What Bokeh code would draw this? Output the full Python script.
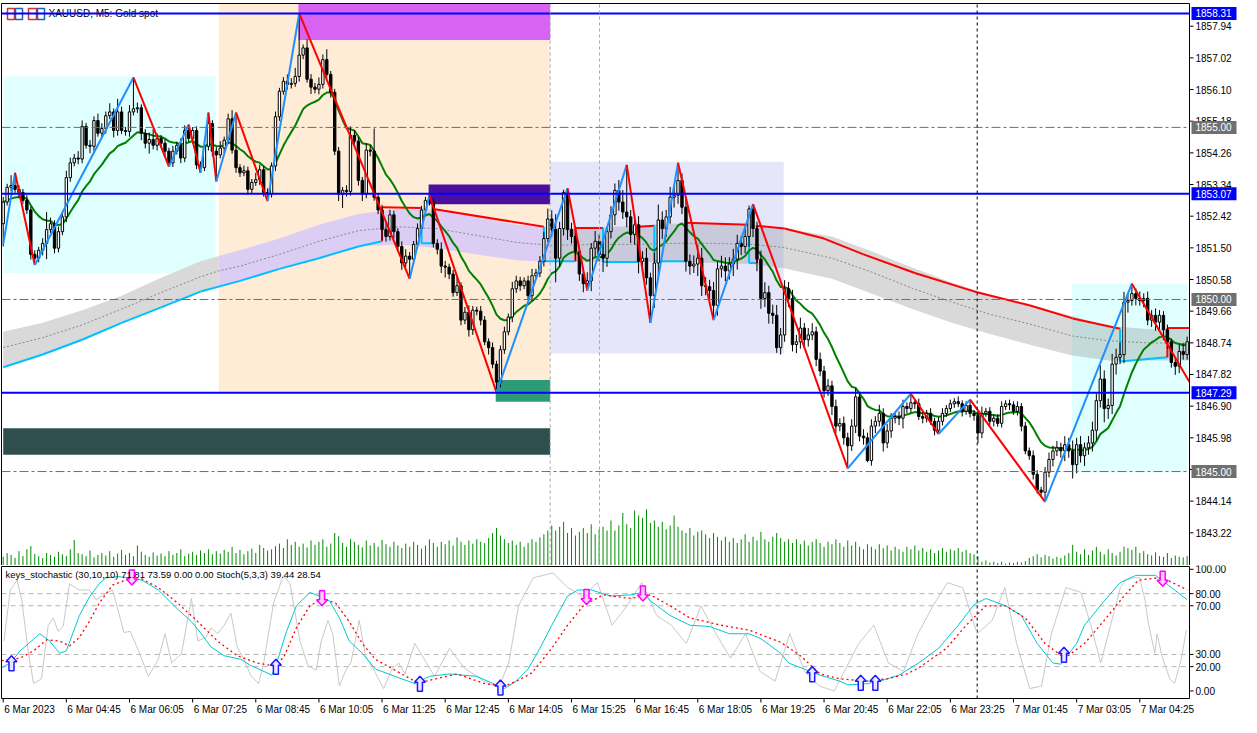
import numpy as np
import pandas as pd
from bokeh.plotting import figure
from bokeh.layouts import column
from bokeh.models import Range1d
from bokeh.core.properties import value
from bokeh.embed import file_html
from bokeh.resources import INLINE

# ---------------- data ----------------
open_first = 1852.20
close = [
1852.83,1853.26,1853.31,1853.20,1853.11,1852.88,1852.60,1851.31,1851.20,1851.43,
1851.63,1852.03,1852.20,1851.49,1851.97,1852.40,1853.54,1853.97,1854.11,1854.08,
1855.03,1854.48,1854.45,1855.20,1854.83,1854.97,1855.34,1855.45,1854.91,1855.45,
1854.91,1854.88,1855.45,1855.54,1855.57,1854.83,1854.54,1854.65,1854.48,1854.68,
1854.54,1854.31,1853.97,1854.31,1854.48,1854.11,1854.91,1854.68,1854.91,1853.91,
1853.83,1854.45,1855.11,1854.31,1854.20,1854.40,1854.63,1855.25,1854.34,1853.83,
1853.68,1853.74,1853.20,1853.40,1853.48,1853.77,1853.11,1853.06,1853.88,1855.31,
1856.05,1856.34,1856.25,1856.28,1856.48,1857.10,1857.31,1856.40,1856.17,1856.11,
1856.25,1856.97,1856.54,1856.02,1854.31,1853.06,1853.17,1853.14,1854.77,1854.60,
1853.46,1853.06,1854.34,1854.31,1852.97,1852.60,1852.03,1851.83,1852.46,1851.97,
1851.54,1851.06,1851.26,1851.17,1851.60,1852.06,1852.60,1852.88,1852.83,1851.63,
1851.46,1850.97,1850.94,1850.74,1850.20,1850.40,1849.40,1849.63,1849.12,1849.69,
1849.66,1849.40,1848.77,1848.60,1848.12,1847.60,1848.54,1849.06,1849.49,1850.31,
1850.54,1850.40,1850.54,1850.11,1850.69,1850.77,1851.11,1851.77,1852.34,1852.03,
1851.20,1852.06,1853.11,1852.03,1851.83,1851.40,1850.74,1850.46,1850.54,1851.49,
1851.69,1851.31,1851.20,1851.97,1852.46,1853.17,1852.83,1852.54,1852.40,1851.89,
1852.17,1851.11,1851.20,1850.63,1850.11,1851.06,1852.31,1852.06,1852.40,1852.97,
1853.03,1853.46,1852.68,1851.11,1850.97,1851.03,1851.20,1850.40,1850.37,1850.26,
1849.83,1850.89,1850.97,1850.83,1851.03,1851.17,1851.63,1851.54,1851.83,1852.63,
1852.06,1851.17,1850.03,1850.20,1849.60,1849.54,1848.60,1848.97,1850.31,1850.03,
1848.69,1848.77,1849.17,1848.83,1848.97,1849.06,1848.26,1847.92,1847.35,1847.49,
1846.89,1846.32,1846.40,1845.98,1845.75,1846.32,1847.17,1846.03,1845.98,1845.32,
1846.32,1846.46,1846.69,1845.83,1846.18,1846.55,1846.60,1846.55,1846.89,1846.83,
1847.00,1846.97,1846.60,1846.55,1846.69,1846.46,1846.20,1846.46,1846.69,1846.83,
1846.97,1847.03,1846.97,1846.75,1846.92,1846.69,1846.63,1846.12,1846.69,1846.75,
1846.46,1846.55,1846.40,1846.89,1846.97,1846.94,1846.75,1846.89,1846.32,1845.60,
1845.46,1844.92,1844.46,1844.40,1844.98,1845.35,1845.60,1845.69,1845.60,1845.78,
1845.60,1845.20,1845.78,1845.46,1845.69,1845.83,1846.20,1847.06,1847.69,1846.83,
1846.92,1848.12,1848.32,1848.40,1849.92,1849.97,1850.17,1850.03,1849.97,1850.03,
1849.40,1849.54,1849.34,1849.54,1849.12,1848.77,1848.17,1848.06,1848.49,1848.40,
1848.77]

wick_up = [
0.15,0.10,0.30,0.37,0.12,0.10,0.15,0.10,0.12,0.10,0.15,0.51,0.18,0.10,0.15,0.12,0.20,0.15,0.12,0.20,
0.17,0.10,0.15,0.12,0.20,0.15,0.12,0.25,0.10,0.38,0.15,0.10,0.20,0.91,0.15,0.10,0.12,0.20,0.30,0.15,
0.10,0.12,0.10,0.15,0.10,0.20,0.15,0.17,0.10,0.12,0.10,0.15,0.32,0.10,0.12,0.20,0.10,0.15,0.25,1.09,
0.10,0.15,0.12,0.10,0.20,0.15,0.10,0.12,0.10,0.15,0.10,0.12,0.20,0.15,0.25,1.21,0.10,0.25,0.15,0.12,
0.20,0.15,0.30,0.10,0.10,0.12,0.10,0.15,0.26,0.15,0.12,0.10,0.20,0.15,0.66,0.12,0.15,0.20,0.15,0.12,
0.10,0.15,0.20,0.12,0.10,0.15,0.12,0.10,0.15,0.10,0.12,0.20,0.15,0.10,0.12,0.25,0.10,0.15,0.20,0.12,
0.10,0.15,0.12,0.10,0.15,0.10,0.12,0.15,0.10,0.20,0.15,0.12,0.10,0.15,0.20,0.12,0.15,0.20,0.30,0.25,
0.45,0.20,0.08,0.12,0.20,0.30,0.15,0.20,0.25,0.15,0.30,0.20,0.40,0.15,0.25,0.20,0.30,0.35,1.37,0.20,
0.30,0.25,0.20,0.30,0.15,0.30,0.45,0.25,0.20,0.30,0.25,0.51,0.20,0.30,0.20,0.25,0.40,0.30,0.25,0.20,
0.25,0.20,0.30,0.25,0.20,0.30,0.25,0.20,0.30,0.10,0.14,0.20,0.25,0.30,0.20,0.25,0.30,0.20,0.25,0.20,
0.25,0.20,0.30,0.15,0.20,0.25,0.15,0.20,0.15,0.20,0.15,0.20,0.15,0.20,0.15,0.20,0.25,0.15,0.20,0.15,
0.20,0.15,0.25,0.15,0.20,0.15,0.12,0.15,0.20,0.12,0.26,0.10,0.15,0.12,0.10,0.15,0.10,0.12,0.15,0.10,
0.12,0.10,0.15,0.10,0.12,0.17,0.10,0.15,0.20,0.10,0.12,0.10,0.12,0.15,0.10,0.12,0.10,0.15,0.10,0.12,
0.10,0.15,0.12,0.10,0.15,0.20,0.15,0.20,0.15,0.25,0.20,0.30,0.20,0.25,0.15,0.20,0.25,0.20,0.40,0.25,
0.20,0.30,0.25,0.35,0.30,0.20,0.29,0.15,0.20,0.15,0.20,0.15,0.20,0.15,0.12,0.15,0.10,0.15,0.20,0.25,
0.15]

wick_dn = [
0.66,0.10,0.12,0.10,0.15,0.10,0.12,0.15,0.20,0.12,0.15,0.46,0.10,0.15,0.12,0.10,0.15,0.12,0.10,0.15,
0.12,0.10,0.20,0.15,0.10,0.12,0.15,0.10,0.20,0.15,0.10,0.12,0.15,0.10,0.12,0.20,0.15,0.30,0.12,0.15,
0.12,0.15,0.11,0.12,0.10,0.15,0.12,0.10,0.15,0.12,0.15,0.10,0.12,0.15,0.77,0.10,0.15,0.12,0.10,0.15,
0.12,0.10,0.15,0.12,0.10,0.15,0.12,0.20,0.10,0.15,0.12,0.10,0.15,0.12,0.10,0.15,0.12,0.10,0.20,0.12,
0.15,0.12,0.10,0.15,0.12,0.20,0.40,0.15,0.12,0.10,0.15,0.20,0.12,0.15,0.10,0.12,0.30,0.15,0.12,0.20,
0.15,0.20,0.12,0.57,0.15,0.10,0.12,0.15,0.10,0.12,0.15,0.20,0.30,0.15,0.12,0.10,0.15,0.12,0.20,0.15,
0.12,0.15,0.10,0.20,0.12,0.30,0.15,0.12,0.10,0.15,0.12,0.15,0.10,0.12,0.15,0.10,0.12,0.15,0.10,0.20,
0.70,0.25,0.20,0.30,0.20,0.25,0.20,0.25,0.20,0.30,0.25,0.20,0.40,0.25,0.20,0.30,0.25,0.20,0.30,0.25,
0.30,0.35,0.25,0.20,0.79,0.35,0.50,0.30,0.25,0.20,0.30,0.25,0.20,0.30,0.25,0.20,0.35,0.30,0.25,0.30,
0.43,0.30,0.25,0.30,0.25,0.35,0.30,0.25,0.20,0.30,0.25,0.35,0.30,0.25,0.30,0.25,0.15,0.20,0.20,0.25,
0.20,0.25,0.20,0.25,0.20,0.15,0.20,0.15,0.20,0.15,0.25,0.20,0.15,0.20,0.66,0.15,0.20,0.15,0.20,0.05,
0.15,0.20,0.15,0.25,0.15,0.20,0.15,0.20,0.30,0.15,0.12,0.15,0.10,0.15,0.12,0.10,0.15,0.11,0.12,0.10,
0.10,0.12,0.10,0.15,0.10,0.12,0.15,0.30,0.15,0.10,0.12,0.15,0.10,0.12,0.10,0.15,0.10,0.12,0.15,0.10,
0.12,0.15,0.10,0.12,0.28,0.15,0.20,0.15,0.20,0.30,0.20,0.40,0.25,0.20,0.30,0.20,0.25,0.30,0.20,0.40,
0.30,0.25,0.30,0.20,0.25,0.30,0.15,0.20,0.15,0.20,0.15,0.20,0.25,0.20,0.30,0.20,0.15,0.25,0.20,0.15,
0.15]

tick_volume = [
140,200,170,120,230,150,260,310,180,150,120,200,170,140,220,180,150,260,410,200,
180,150,240,130,170,200,160,230,140,190,250,170,200,150,320,220,170,140,210,160,
190,150,230,170,200,260,150,190,220,170,240,200,260,180,230,190,250,220,300,200,
250,180,230,270,200,330,280,240,260,310,350,280,420,330,380,300,350,290,400,330,
380,420,300,350,520,470,360,300,420,380,330,290,400,320,360,300,410,340,300,380,
320,280,350,300,380,330,270,320,420,360,300,380,340,400,320,450,380,330,400,350,
420,380,360,440,520,600,480,420,360,400,330,380,300,360,420,380,450,500,560,640,
560,620,700,520,600,480,540,600,520,660,500,580,620,560,720,560,640,840,660,600,
880,800,760,900,680,720,620,700,580,640,800,620,560,520,600,480,540,560,500,440,
520,460,400,460,380,440,360,420,500,380,460,400,540,420,380,460,520,440,380,420,
360,420,340,400,320,380,420,360,300,380,340,420,360,300,400,320,380,300,260,340,
300,260,340,280,320,240,300,260,220,300,260,320,240,280,220,260,200,240,280,220,
260,240,280,220,250,200,180,150,60,80,50,60,40,60,30,50,40,60,50,70,
120,150,180,130,170,150,110,140,120,160,200,330,220,180,260,170,240,300,220,180,
260,200,160,220,300,280,250,300,200,230,180,160,210,150,140,200,120,160,140,130,
150]

zz_bar = [0, 3, 8, 33, 42, 47, 50, 52, 54, 59, 67, 75, 103, 108, 125, 143, 148, 158,
          164, 171, 180, 190, 214, 230, 237, 245, 264, 286, 300.6]
zz_price = [1851.60, 1853.68, 1851.00, 1856.45, 1853.86, 1855.08, 1853.68, 1855.43,
            1853.43, 1855.43, 1852.86, 1858.31, 1850.60, 1853.03, 1847.30, 1853.23,
            1850.26, 1853.91, 1849.32, 1853.97, 1849.40, 1852.77, 1845.09, 1847.26,
            1846.09, 1847.09, 1844.12, 1850.46, 1847.60]

band_x = [0, 10, 20, 30, 40, 50, 54.6, 60, 70, 80, 90, 100, 110, 120, 130, 138.6, 150,
          160, 170, 180, 190, 197.8, 210, 220, 230, 240, 250, 260, 270.8, 280, 290, 300.6]
band_up = [1849.06, 1849.32, 1849.69, 1850.11, 1850.63, 1851.11, 1851.26, 1851.43,
           1851.77, 1852.17, 1852.48, 1852.63, 1852.60, 1852.40, 1852.17, 1852.08,
           1852.08, 1852.14, 1852.20, 1852.20, 1852.17, 1852.08, 1851.83, 1851.40,
           1850.94, 1850.51, 1850.14, 1849.86, 1849.52, 1849.23, 1849.14, 1849.12]
band_lo = [1848.06, 1848.40, 1848.83, 1849.32, 1849.77, 1850.23, 1850.40, 1850.54,
           1850.89, 1851.20, 1851.54, 1851.60, 1851.49, 1851.31, 1851.14, 1851.09,
           1851.09, 1851.09, 1851.09, 1851.06, 1851.03, 1850.91, 1850.60, 1850.17,
           1849.74, 1849.34, 1849.00, 1848.69, 1848.37, 1848.23, 1848.23, 1848.23]
band_mid = [1848.60, 1848.89, 1849.26, 1849.72, 1850.20, 1850.66, 1850.83, 1850.97,
            1851.31, 1851.69, 1852.00, 1852.11, 1852.06, 1851.86, 1851.66, 1851.57,
            1851.60, 1851.60, 1851.63, 1851.63, 1851.60, 1851.51, 1851.20, 1850.80,
            1850.34, 1849.94, 1849.57, 1849.29, 1848.94, 1848.80, 1848.74, 1848.72]

trail_x = [0, 10, 20, 30, 40, 50, 60, 70, 80, 90, 96, 96, 106, 106, 109, 109, 137, 137,
           145, 145, 152, 152, 161, 161, 165, 165, 173, 173, 189, 189, 191, 191, 198,
           208, 218, 231, 247, 260, 271, 283, 283, 295, 295, 300.6]
trail_y = [1848.03, 1848.40, 1848.83, 1849.32, 1849.77, 1850.23, 1850.54, 1850.89,
           1851.20, 1851.54, 1851.69, 1852.68, 1852.66, 1851.63, 1851.63, 1852.63,
           1852.11, 1851.11, 1851.11, 1852.08, 1852.08, 1851.09, 1851.09, 1852.11,
           1852.14, 1851.11, 1851.11, 1852.23, 1852.17, 1851.06, 1851.06, 1852.14,
           1852.06, 1851.77, 1851.31, 1850.77, 1850.20, 1849.83, 1849.45, 1849.15,
           1848.20, 1848.32, 1849.17, 1849.17]
trail_up = [0] * 11 + [1, 1, 0, 0, 1, 1, 0, 0, 1, 1,
                       0, 0, 1, 1, 0, 0, 1, 1, 0, 0,
                       1, 1, 1, 1, 1, 1, 1, 1, 1, 0,
                       0, 1, 1]

zones = [
    (0, 53.8, 1856.48, 1850.77, "#e0ffff"),
    (54.6, 138.6, 1858.60, 1847.29, "#ffecd6"),
    (74.8, 138.6, 1858.60, 1857.54, "#d862f2"),
    (138.6, 197.8, 1854.00, 1848.43, "#e6e6fa"),
    (270.8, 300.1, 1850.46, 1844.98, "#e0ffff"),
    (107.8, 138.6, 1853.34, 1852.77, "#4b0f9e"),
    (124.8, 138.6, 1847.66, 1847.03, "#2e9b78"),
    (0, 138.6, 1846.26, 1845.49, "#2f4f4f"),
]
blue_levels = [1858.31, 1853.07, 1847.29]
grey_levels = [1855.00, 1850.00, 1845.00]

ks_x = [-0.4, 1.8, 4.3, 9.3, 11.8, 14.3, 16, 19.3, 21.8, 24.3, 26, 29.3, 35.2, 39.3, 44.3,
        47.7, 50.2, 52.7, 56, 60.2, 62.7, 68.1, 69.3, 71.8, 74.3, 77.7, 80.2, 82.7, 85.2,
        87.7, 91, 94.3, 99.3, 104.3, 108, 113, 120, 127, 130, 133, 136, 139, 143, 145.6,
        149, 154, 159, 162, 164, 169, 174, 179, 184, 189, 192, 197, 199, 203, 207, 212,
        214, 219, 223, 227, 232, 237, 242, 246, 249, 254, 258, 262, 266, 268, 272, 274,
        279, 283, 287, 292, 296, 300]
ks_main = [19, 23, 33, 47, 41, 31, 33, 62, 77, 88, 93, 94, 91, 83, 67, 57, 47, 36, 29, 26,
           21, 13, 23, 49, 70, 81, 78, 74, 60, 41, 31, 18, 12, 6, 12, 14, 12, 2, 8, 18,
           35, 54, 78, 83, 83, 78, 79, 81, 74, 62, 54, 53, 47, 47, 43, 31, 23, 18, 13, 8,
           5, 6, 9, 13, 23, 35, 54, 71, 76, 70, 62, 39, 23, 22, 39, 54, 74, 89, 95, 95,
           85, 75]
sg_x = [-0.4, 4.3, 7.7, 11, 14.3, 16.8, 19.3, 21.8, 24.3, 27.7, 31, 35.2, 39.3, 44.3, 49.3,
        54.3, 59.3, 64.3, 67.7, 71, 74.3, 77.7, 81, 84.3, 87.7, 91, 94.3, 99.3, 104.3, 107,
        115, 122, 127, 130, 133, 134, 139, 143, 147, 152, 159, 164, 169, 174, 182, 189,
        197, 202, 207, 212, 219, 224, 229, 232, 239, 244, 249, 254, 259, 264, 269, 274,
        279, 284, 287.6, 292.6, 295, 297.6, 300]
ks_signal = [25, 27, 33, 42, 41, 37, 44, 57, 72, 87, 91, 92, 85, 72, 57, 41, 29, 23, 21, 27,
             52, 70, 76, 72, 57, 39, 26, 17, 8, 8, 14, 6, 4, 8, 13, 15, 35, 54, 70, 79,
             76, 79, 70, 60, 54, 50, 40, 29, 14, 10, 8, 10, 14, 19, 35, 54, 70, 70, 60, 39,
             27, 39, 58, 78, 91, 93, 91, 87, 83]
st_x = [0.2, 1.8, 3.5, 4.7, 6.4, 7.7, 9.7, 11.4, 12.7, 13.9, 15.2, 16.8, 19.3, 21.8, 23.5,
        26, 27.7, 29.3, 30.6, 32.2, 34.3, 36.8, 39.3, 41, 42.7, 45.2, 47.7, 49.3, 51.4,
        52.7, 54.3, 56, 57.7, 59.3, 61, 62.7, 64.7, 66, 68.5, 71, 72.7, 75.2, 77.2, 79.3,
        80.6, 82.3, 83.5, 85.2, 86.8, 88.1, 90.2, 91.8, 94.3, 96.4, 98.5, 100.2, 101.8,
        104.3, 109.3, 113.1, 116.8, 121.8, 125.6, 128.1, 130.6, 134.3, 139.3, 143.1,
        146.8, 150.6, 154.3, 158.1, 161.8, 165.6, 169.3, 173.1, 176.8, 180.6, 184.3,
        188.1, 191.8, 195.6, 199.3, 203.1, 206.8, 210.6, 213.1, 216.8, 220.6, 224.3,
        228.1, 231.8, 235.6, 239.3, 243.1, 246.8, 250.6, 253.8, 256.8, 260.1, 263.1,
        265.6, 269.3, 273.1, 275.6, 278.1, 280.6, 283.1, 284.3, 286, 288, 289.3, 290.1,
        291.8, 292.4, 293.6, 295.6, 296.8, 298.5, 299.8]
st_val = [41, 83, 91, 75, 31, 6, 10, 54, 60, 49, 53, 88, 83, 83, 75, 80, 83, 64, 48, 49,
          33, 12, 26, 47, 23, 31, 76, 41, 44, 52, 47, 54, 64, 36, 26, 13, 6, 23, 72, 95,
          88, 41, 21, 17, 41, 58, 47, 4, 17, 23, 58, 29, 15, 2, 18, 23, 14, 39, 12, 35,
          19, 8, 3, 23, 70, 93, 97, 85, 78, 89, 54, 70, 89, 62, 54, 39, 70, 47, 27, 47,
          16, 8, 47, 16, 4, 0, 16, 39, 54, 23, 16, 47, 70, 89, 85, 47, 58, 85, 39, 2,
          4, 47, 85, 81, 54, 23, 54, 85, 91, 93, 93, 75, 57, 31, 47, 29, 10, 6, 26, 50]
buy_bar = [2.1, 69.1, 105.6, 126, 205, 217.3, 221, 268.8]
buy_val = [29, 26, 12, 9, 20, 13, 13, 36]
sell_bar = [32.6, 80.8, 147.8, 162.1, 293.8]
sell_val = [87, 70, 71, 74, 86]

y_ticks = [1843.22, 1844.14, 1845.06, 1845.98, 1846.90, 1847.82, 1848.74, 1849.66,
           1850.58, 1851.50, 1852.42, 1853.34, 1854.26, 1855.18, 1856.10, 1857.02, 1857.94]
sub_ticks = [0, 20, 30, 70, 80, 100]
x_ticks = [0, 16, 32, 48, 64, 80, 96, 112, 128, 144, 160, 176, 192, 208, 224, 240, 256, 272, 288]
x_labels = ["6 Mar 2023", "6 Mar 04:45", "6 Mar 06:05", "6 Mar 07:25", "6 Mar 08:45",
            "6 Mar 10:05", "6 Mar 11:25", "6 Mar 12:45", "6 Mar 14:05", "6 Mar 15:25",
            "6 Mar 16:45", "6 Mar 18:05", "6 Mar 19:25", "6 Mar 20:45", "6 Mar 22:05",
            "6 Mar 23:25", "7 Mar 01:45", "7 Mar 03:05", "7 Mar 04:25"]

# ---------------- layout constants ----------------
FONT = "Liberation Sans"
FS = "10px"
W = 1241
CHART_W = 1188
X0, X1 = -0.43, 300.6
PMIN, PMAX = 1842.27, 1858.60
SMIN, SMAX = -6.2, 102.3
MAIN_H, SUB_H = 565, 150
MAIN_CH = 562
SUB_CH = 132
PPB = CHART_W / (X1 - X0)
PPU = MAIN_CH / (PMAX - PMIN)
PPS = SUB_CH / (SMAX - SMIN)
XS = X0 - 1 / PPB
XE = X0 + (W - 1) / PPB

n = len(close)
idx = np.arange(n)
c = np.array(close)
o = np.concatenate([[open_first], c[:-1]])
hi = np.maximum(o, c) + np.array(wick_up)
lo = np.minimum(o, c) - np.array(wick_dn)
ema = pd.Series(c).ewm(span=16, adjust=False).mean().values


def make_fig(h, ymin, ymax):
    f = figure(width=W, height=h, x_range=Range1d(XS, XE), y_range=Range1d(ymin, ymax),
               output_backend="svg", toolbar_location=None, x_axis_location=None,
               y_axis_location=None, min_border=0)
    f.grid.visible = False
    f.outline_line_color = None
    f.background_fill_color = "white"
    f.border_fill_color = "white"
    return f


def txt(f, xs, ys, texts, color="black", align="left", baseline="middle", size=FS):
    f.text(x=xs, y=ys, text=texts, text_font=value(FONT), text_font_size=value(size),
           text_color=color, text_align=align, text_baseline=baseline)


# ---------------- main panel ----------------
p = make_fig(MAIN_H, PMIN, PMAX + 3 / PPU)

for l, r, t, b, col in zones[:5]:
    p.quad(left=l, right=r, top=t, bottom=b, fill_color=col, line_color=None)

bx = np.array(band_x)
bu = np.array(band_up)
bl = np.array(band_lo)
pieces = [(0, 54.6, "#d9d9d9"), (54.6, 138.6, "#dccdf4"), (138.6, 197.8, "#c9c9dc"),
          (197.8, 270.8, "#d9d9d9"), (270.8, 300.6, "#c2dada")]
for a, b, col in pieces:
    m = (bx >= a) & (bx <= b)
    p.varea(x=bx[m], y1=bl[m], y2=bu[m], fill_color=col)
p.line(band_x, band_mid, line_color="#8a8a8a", line_dash="2 2", line_width=1)

for l, r, t, b, col in zones[5:]:
    p.quad(left=l, right=r, top=t, bottom=b, fill_color=col, line_color=None)

tx0, ty0, tx1, ty1, tcol = [], [], [], [], []
for k in range(len(trail_x) - 1):
    tx0.append(trail_x[k]); ty0.append(trail_y[k])
    tx1.append(trail_x[k + 1]); ty1.append(trail_y[k + 1])
    tcol.append("#ff0000" if trail_up[k + 1] == 1 else "#00bfff")
p.segment(x0=tx0, y0=ty0, x1=tx1, y1=ty1, line_color=tcol, line_width=2)

k_vol = 1.0 / (16 * PPU)
vtop = PMIN + np.array(tick_volume) * k_vol
p.segment(x0=idx, y0=np.full(n, PMIN), x1=idx, y1=vtop, line_color="#008c00", line_width=1)

p.line(idx, ema, line_color="#008000", line_width=2)

fill = ["white" if cc >= oo else "black" for oo, cc in zip(o, c)]
p.segment(x0=idx, y0=lo, x1=idx, y1=hi, line_color="black", line_width=1)
p.vbar(x=idx, width=0.6, top=np.maximum(o, c), bottom=np.minimum(o, c),
       fill_color=fill, line_color="black", line_width=1)

zx0, zy0, zx1, zy1, zcol = [], [], [], [], []
for k in range(len(zz_bar) - 1):
    zx0.append(zz_bar[k]); zy0.append(zz_price[k])
    zx1.append(zz_bar[k + 1]); zy1.append(zz_price[k + 1])
    zcol.append("#1e90ff" if zz_price[k + 1] > zz_price[k] else "#ff0000")
p.segment(x0=zx0, y0=zy0, x1=zx1, y1=zy1, line_color=zcol, line_width=2)


def bx_px(px):
    return X0 + px / PPB


def by_px(py):
    return PMAX - py / PPU


for (a, b, col) in [(6, 13, "#d03030"), (14, 21, "#1f5fbf"), (27, 35, "#d03030"), (36, 43, "#1f5fbf")]:
    p.quad(left=bx_px(a), right=bx_px(b), top=by_px(5), bottom=by_px(16),
           fill_color="white", line_color=col, line_width=1.5)
txt(p, [bx_px(47)], [by_px(10)], ["XAUUSD, M5: Gold spot"])

p.segment(x0=[X0] * 3, y0=grey_levels, x1=[X1] * 3, y1=grey_levels,
          line_color="#6e6e6e", line_dash="9 3 3 3", line_width=1)
p.segment(x0=[X0] * 3, y0=blue_levels, x1=[X1] * 3, y1=blue_levels,
          line_color="#0000ff", line_width=2)
p.segment(x0=[138.6, 151.1], y0=[PMIN] * 2, x1=[138.6, 151.1], y1=[PMAX] * 2,
          line_color="#a8a8a8", line_dash="3 3", line_width=1)
p.segment(x0=[246.8], y0=[PMIN], x1=[246.8], y1=[PMAX], line_color="black",
          line_dash="3 3", line_width=1)

p.segment(x0=[X0, X0, X1, X0], y0=[PMIN, PMAX, PMIN, PMIN],
          x1=[X1, X1, X1, X0], y1=[PMIN, PMAX, PMAX, PMAX], line_color="black", line_width=1)

p.segment(x0=[X1] * len(y_ticks), y0=y_ticks, x1=[X1 + 4 / PPB] * len(y_ticks), y1=y_ticks,
          line_color="black", line_width=1)
txt(p, [X1 + 6 / PPB] * len(y_ticks), y_ticks, [f"{t:.2f}" for t in y_ticks])

lab_lv = blue_levels + grey_levels
lab_bg = ["#0000ff"] * 3 + ["#707070"] * 3
p.quad(left=[X1 + 2 / PPB] * 6, right=[X1 + 47 / PPB] * 6,
       top=[v + 6.5 / PPU for v in lab_lv], bottom=[v - 6.5 / PPU for v in lab_lv],
       fill_color=lab_bg, line_color=None)
txt(p, [X1 + 6 / PPB] * 6, lab_lv, [f"{v:.2f}" for v in lab_lv], color="white")

# ---------------- stochastic panel ----------------
p2 = make_fig(SUB_H, SMIN - 17 / PPS, SMAX + 1 / PPS)

p2.segment(x0=[X0] * 4, y0=[20, 30, 70, 80], x1=[X1] * 4, y1=[20, 30, 70, 80],
           line_color="#b4b4b4", line_dash="5 4", line_width=1)
p2.segment(x0=[246.8], y0=[SMIN], x1=[246.8], y1=[SMAX], line_color="black",
           line_dash="3 3", line_width=1)

p2.line(st_x, st_val, line_color="#c8c8c8", line_width=1)
p2.line(ks_x, ks_main, line_color="#00c8d0", line_width=1)
p2.line(sg_x, ks_signal, line_color="#ff0000", line_width=1.3, line_dash="2 3")

hw = 5.5 / PPB
sw = 2.5 / PPB
hh = 6 / PPS
H = 15 / PPS


def arrow(bx_, v, d):
    xs = [bx_, bx_ + hw, bx_ + sw, bx_ + sw, bx_ - sw, bx_ - sw, bx_ - hw]
    ys = [v, v - d * hh, v - d * hh, v - d * H, v - d * H, v - d * hh, v - d * hh]
    return xs, ys


uxs, uys = zip(*[arrow(b, v, 1) for b, v in zip(buy_bar, buy_val)])
dxs, dys = zip(*[arrow(b, v, -1) for b, v in zip(sell_bar, sell_val)])
p2.patches(list(uxs), list(uys), fill_color="#eee6ff", line_color="#1a1aff", line_width=1.5)
p2.patches(list(dxs), list(dys), fill_color="#ffd2ff", line_color="#ff00ff", line_width=1.5)

txt(p2, [X0 + 4 / PPB], [SMAX - 8 / PPS],
    ["keys_stochastic (30,10,10) 71.81 73.59 0.00 0.00 Stoch(5,3,3) 39.44 28.54"], size="9.5px")

p2.segment(x0=[X0, X0, X1, X0], y0=[SMIN, SMAX, SMIN, SMIN],
           x1=[X1, X1, X1, X0], y1=[SMIN, SMAX, SMAX, SMAX], line_color="black", line_width=1)

p2.segment(x0=[X1] * 6, y0=sub_ticks, x1=[X1 + 4 / PPB] * 6, y1=sub_ticks,
           line_color="black", line_width=1)
txt(p2, [X1 + 6 / PPB] * 6, sub_ticks, [f"{t:.2f}" for t in sub_ticks])

nt = len(x_ticks)
p2.segment(x0=x_ticks, y0=[SMIN] * nt, x1=x_ticks, y1=[SMIN - 4 / PPS] * nt,
           line_color="black", line_width=1)
txt(p2, [t + 1 / PPB for t in x_ticks], [SMIN - 5 / PPS] * nt, x_labels, baseline="top")

layout = column(p, p2, spacing=0)
open("out.html", "w").write(file_html(layout, INLINE, "XAUUSD M5"))
